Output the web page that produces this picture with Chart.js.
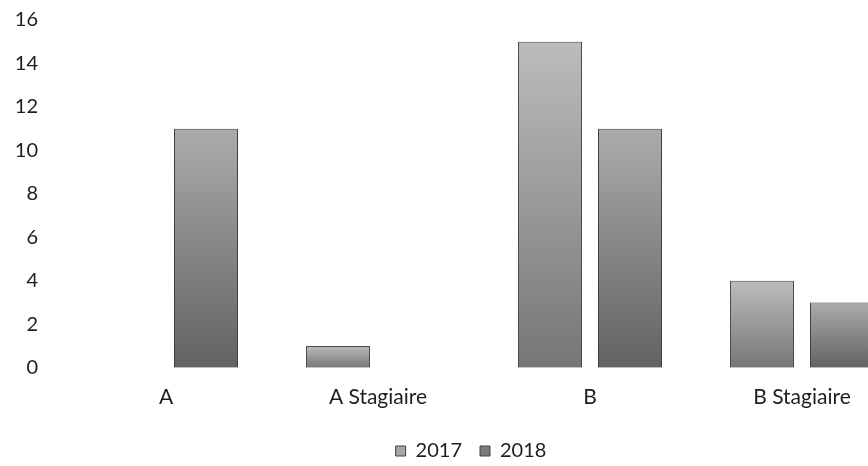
<!DOCTYPE html>
<html lang="fr">
<head>
  <meta charset="UTF-8">
  <script src="https://cdn.jsdelivr.net/npm/chart.js"></script>
  <title>Effectifs 2017 / 2018</title>
  <style>
    html, body { margin: 0; padding: 0; background: #fff; overflow: hidden; }
    .wrapper { width: 868px; height: 466px; overflow: hidden; position: relative; }
    #chart { position: absolute; left: 0; top: 0; }
  </style>
</head>
<body>

  <div class="wrapper">
    <canvas id="chart" width="942" height="475"></canvas>
  </div>

<script>

// data
const categories = ['A', 'A Stagiaire', 'B', 'B Stagiaire'];
const values2017 = [null, 1, 15, 4];
const values2018 = [11, null, 11, 3];
const yTicks = [0, 2, 4, 6, 8, 10, 12, 14, 16];

// greyish gradient per bar, light on top, darker at the base
function barFill(light, dark){
  return function(ctx){
    const chart = ctx.chart;
    if (!chart.chartArea || ctx.type !== 'data' || ctx.raw == null) return dark;
    const y = chart.scales.y;
    const top = y.getPixelForValue(ctx.raw);
    const base = y.getPixelForValue(0);
    const g = chart.ctx.createLinearGradient(0, top, 0, base);
    g.addColorStop(0, light);
    g.addColorStop(1, dark);
    return g;
  };
}

const legendColors = ['#a6a6a6', '#7a7a7a'];

// centre the legend on the whole canvas and nudge it up a little
const placeLegend = {
  id: 'placeLegend',
  afterLayout(chart){
    const lg = chart.legend;
    if (!lg) return;
    const dx = (chart.width - (lg.left + lg.right)) / 2;
    const dy = -4;
    lg.left += dx;
    lg.right += dx;
    lg.top += dy;
    lg.bottom += dy;
  }
};

const data = {
  labels: categories,
  datasets: [
    {
      label: '2017',
      data: values2017,
      backgroundColor: barFill('#bcbcbc', '#767676'),
      borderColor: '#4a4a4a',
      borderWidth: 1,
      barPercentage: 0.8,
      categoryPercentage: 0.755
    },
    {
      label: '2018',
      data: values2018,
      backgroundColor: barFill('#ababab', '#626262'),
      borderColor: '#3e3e3e',
      borderWidth: 1,
      barPercentage: 0.8,
      categoryPercentage: 0.755
    }
  ]
};

const font = { family: 'Lato', size: 20 };

const config = {
  type: 'bar',
  data: data,
  plugins: [placeLegend],
  options: {
    responsive: false,
    animation: false,
    layout: {
      padding: { top: 20, right: 34, bottom: 0, left: 0 }
    },
    plugins: {
      tooltip: { enabled: false },
      legend: {
        position: 'bottom',
        labels: {
          color: '#1e1e1e',
          font: font,
          boxWidth: 10,
          boxHeight: 10,
          padding: 18,
          generateLabels: function(chart){
            const items = Chart.defaults.plugins.legend.labels.generateLabels(chart);
            items.forEach(function(it, i){
              it.fillStyle = legendColors[i];
              it.strokeStyle = '#444';
              it.lineWidth = 1;
            });
            return items;
          }
        }
      }
    },
    scales: {
      x: {
        grid: { display: false, drawTicks: false },
        border: { display: false },
        ticks: { color: '#1e1e1e', font: { family: 'Lato', size: 21 }, padding: 17, maxRotation: 0 }
      },
      y: {
        min: 0,
        max: 16,
        afterBuildTicks: function(scale){
          scale.ticks = yTicks.map(function(v){ return { value: v }; });
        },
        afterFit: function(scale){
          scale.width = 60;
          // let layout.padding decide the top, not the tick padding
          scale.paddingTop = 0;
          scale.paddingBottom = 0;
        },
        grid: { display: false, drawTicks: false },
        border: { display: false },
        ticks: { color: '#1e1e1e', font: font, padding: 22 }
      }
    }
  }
};

const myChart = new Chart(
  document.getElementById('chart'),
  config
);

</script>
</body>
</html>
